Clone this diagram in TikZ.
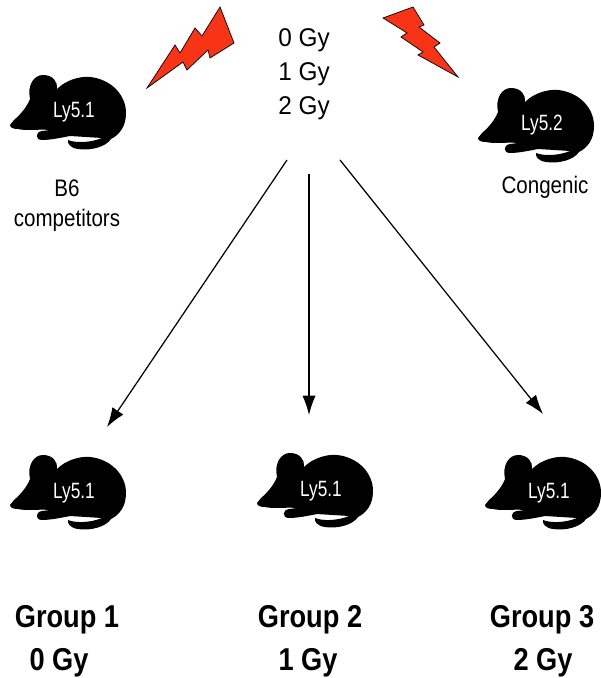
\documentclass[tikz,border=0pt]{standalone}
\usepackage{fontspec}
\setmainfont{Liberation Sans}
\usetikzlibrary{arrows.meta}

\definecolor{raio}{RGB}{248,52,22}
\newcommand{\estreito}[2]{\scalebox{#1}[1]{#2}}

\tikzset{
  rotulo/.style={font=\fontsize{13.6}{16}\selectfont, anchor=base},
  dose/.style={font=\fontsize{14.6}{16}\selectfont, anchor=base},
  grupo/.style={font=\fontsize{18}{20}\selectfont\bfseries, anchor=base},
  raiox/.style={fill=raio, draw=black, line width=0.4pt, line join=miter},
  seta/.style={->, line width=0.7pt},
  pics/camundongo/.style={code={
    % silhueta do camundongo
    \fill[black] (0,50) -- (4,45) .. controls (10,40) and (17,32) .. (20,24)
      .. controls (17,10) and (24,0) .. (33,0)
      .. controls (43,0) and (48,7) .. (47,14)
      .. controls (56,5) and (70,1) .. (80,2)
      .. controls (100,4) and (116,19) .. (116,38)
      .. controls (116,52) and (109,60) .. (101,64)
      .. controls (96,72) and (80,76) .. (68,74)
      .. controls (60,73) and (57,68) .. (58,65)
      .. controls (65,68) and (80,68) .. (92,63)
      -- (60,61)
      .. controls (50,63) and (40,65) .. (32,65)
      .. controls (25,65) and (25,57) .. (32,56)
      -- (40,55)
      .. controls (30,54) and (15,56) .. (8,54)
      .. controls (4,54) and (0,53) .. (0,50) -- cycle;
    \node[white, font=\fontsize{12.6}{14}\selectfont, anchor=base]
      (-txt) at (64,43) {\estreito{0.78}{#1}};
  }}
}

\begin{document}
\begin{tikzpicture}[x=0.02cm, y=-0.02cm, >={Latex[length=11pt,width=7.5pt]}]
\useasboundingbox (0,0) rectangle (600,678);

% Doadores e competidores
\pic (comp) at (10,75) {camundongo=Ly5.1};
\pic (cong) at (478,88) {camundongo=Ly5.2};
\node[rotulo] (b6) at (67,197) {\estreito{0.86}{B6}};
\node[rotulo] (compt) at (67,227) {\estreito{0.86}{competitors}};
\node[rotulo] (congt) at (545,194) {\estreito{0.86}{Congenic}};

% Doses
\node[dose] (d0) at (304,47) {\estreito{0.95}{0 Gy}};
\node[dose] (d1) at (304,81) {\estreito{0.95}{1 Gy}};
\node[dose] (d2) at (304,115) {\estreito{0.95}{2 Gy}};

% Raios
\draw[raiox] (147,88) -- (175,45) -- (180,53) -- (195,28) -- (202,36) -- (220,7)
  -- (234,43) -- (210,58) -- (208,50) -- (187,70) -- (183,62) -- cycle;
\draw[raiox] (383,18) -- (413,7) -- (424,25) -- (419,27) -- (440,43) -- (434,47)
  -- (458,77) -- (418,55) -- (423,52) -- (401,37) -- (407,33) -- cycle;

% Receptores
\pic (r1) at (10,455) {camundongo=Ly5.1};
\pic (r2) at (257,453) {camundongo=Ly5.1};
\pic (r3) at (485,455) {camundongo=Ly5.1};

% Setas
\coordinate (s1) at (287,160);
\coordinate (s2) at (309,174);
\coordinate (s3) at (340,160);
\coordinate (e1) at (107,427);
\coordinate (e2) at (309,415);
\coordinate (e3) at (543,414);
\draw[seta] (s1) -- (e1);
\draw[seta] (s2) -- (e2);
\draw[seta] (s3) -- (e3);

% Grupos
\node[grupo] (g1) at (67,627) {\estreito{0.86}{Group 1}};
\node[grupo] (g1d) at (59,670) {\estreito{0.86}{0 Gy}};
\node[grupo] (g2) at (310,627) {\estreito{0.86}{Group 2}};
\node[grupo] (g2d) at (308,670) {\estreito{0.86}{1 Gy}};
\node[grupo] (g3) at (542,627) {\estreito{0.86}{Group 3}};
\node[grupo] (g3d) at (543,670) {\estreito{0.86}{2 Gy}};

\end{tikzpicture}
\end{document}
